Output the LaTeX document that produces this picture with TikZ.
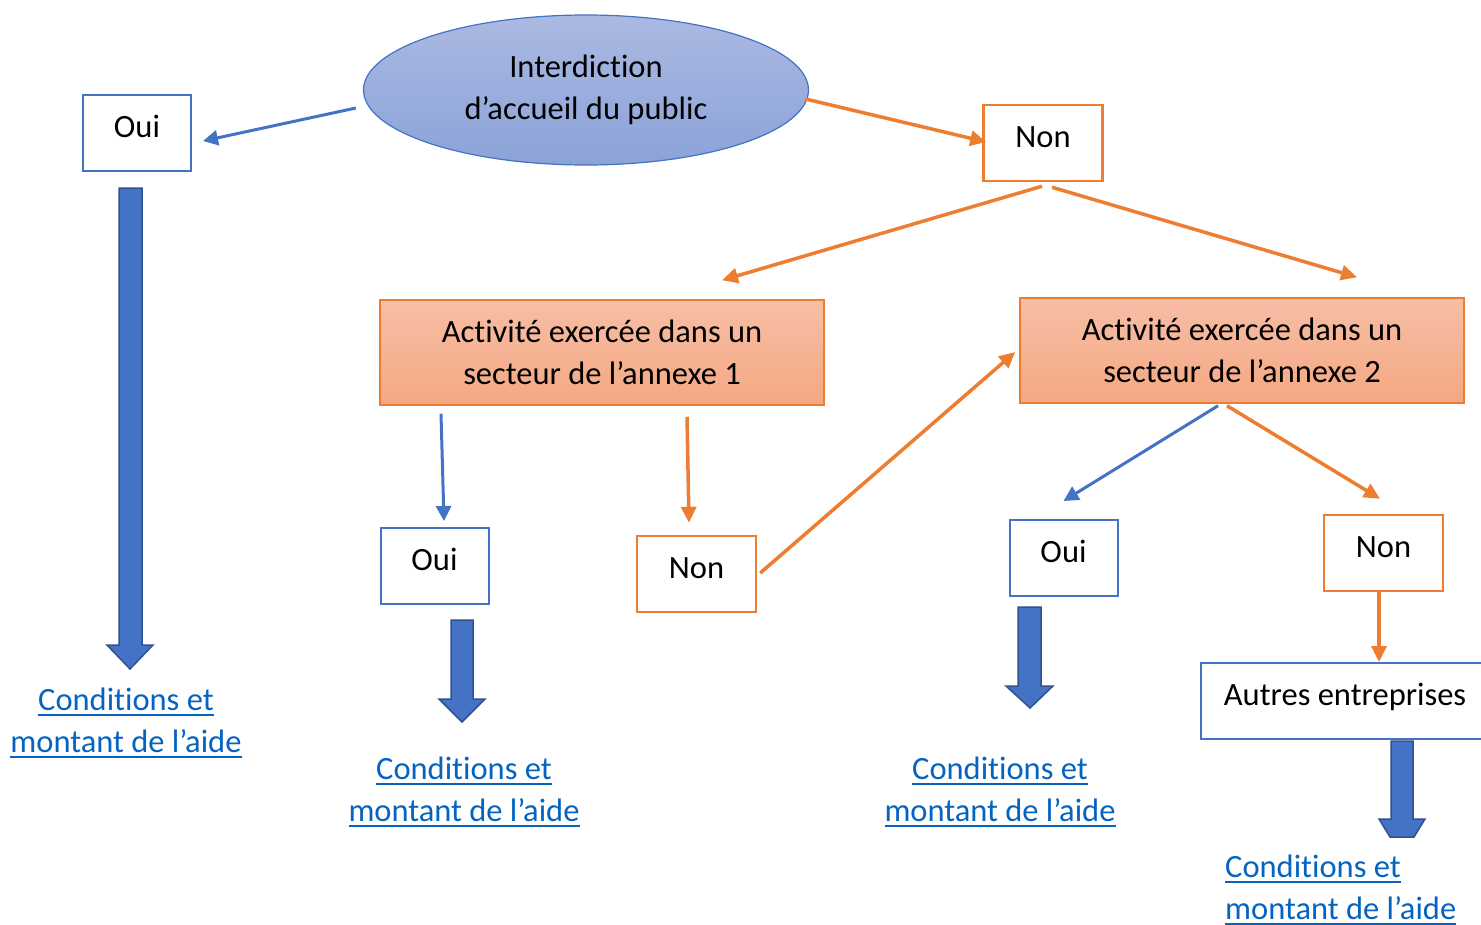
\documentclass[tikz,border=0pt]{standalone}
\usepackage{fontspec}
\setmainfont{Carlito}[Ligatures=NoCommon]
\usetikzlibrary{shapes.geometric}
\usetikzlibrary{arrows.meta}

\definecolor{bleu}{HTML}{4472C4}
\definecolor{bleufonce}{HTML}{2F528F}
\definecolor{orangetrait}{HTML}{ED7D31}
\definecolor{ellhaut}{HTML}{ABB9E2}
\definecolor{ellbas}{HTML}{8BA3D8}
\definecolor{annhaut}{HTML}{F7BEA6}
\definecolor{annbas}{HTML}{F4A882}
\definecolor{lien}{HTML}{0563C1}

\newcommand{\souligne}[1]{%
  \setbox0\hbox{#1}%
  \rlap{\raisebox{-5.5pt}{\rule{\wd0}{2.3pt}}}\box0}

\tikzset{
  boite/.style={
    rectangle,
    fill=white,
    line width=2pt,
    minimum height=76pt,
    text height=23pt,
    text depth=14pt,
  },
  boiteoui/.style={boite, draw=bleu, minimum width=108pt},
  boitenon/.style={boite, draw=orangetrait, line width=2.5pt, minimum width=119pt},
  annexe/.style={
    rectangle,
    draw=orangetrait,
    line width=1.5pt,
    top color=annhaut,
    bottom color=annbas,
    minimum width=444pt,
    minimum height=105pt,
    align=center,
  },
  lientexte/.style={text=lien, inner sep=0pt, align=center},
  flecheoui/.style={draw=bleu, line width=3pt, -{Triangle[length=15pt,width=15pt]}},
  flechenon/.style={draw=orangetrait, line width=3.5pt, -{Triangle[length=16pt,width=15pt]}},
  grosse/.style={fill=bleu, draw=bleufonce, line width=1.5pt, line join=miter},
}

\begin{document}
\begin{tikzpicture}[
  x=1pt, y=-1pt,
  every node/.style={font=\fontsize{32.5}{42}\selectfont},
]
  \useasboundingbox (0,0) rectangle (1481,924);
  \clip (0,0) rectangle (1481,924);

  % question de depart
  \node[
    ellipse,
    draw=bleu,
    line width=1.2pt,
    top color=ellhaut,
    bottom color=ellbas,
    minimum width=445pt,
    minimum height=150pt,
    inner sep=0pt,
    align=center,
  ] (accueil) at (586,90) {Interdiction\\d’accueil du public};

  \node[boiteoui] (oui1) at (137,132.5) {Oui};
  \node[boitenon] (non1) at (1043,143) {Non};

  \node[annexe] (annexe1) at (602,352.5) {Activité exercée dans un\\secteur de l’annexe 1};
  \node[annexe] (annexe2) at (1242,350.5) {Activité exercée dans un\\secteur de l’annexe 2};

  \node[boiteoui] (oui2) at (434.5,566) {Oui};
  \node[boitenon] (non2) at (696.5,574) {Non};
  \node[boiteoui] (oui3) at (1063.5,558) {Oui};
  \node[boitenon] (non3) at (1383.5,553) {Non};

  \node[
    boite,
    draw=bleu,
    minimum width=288pt,
  ] (autres) at (1345,701) {Autres entreprises};

  % liens
  \node[lientexte] (lien1) at (126,723) {\souligne{Conditions et}\\\souligne{montant de l’aide}};
  \node[lientexte] (lien2) at (464,792) {\souligne{Conditions et}\\\souligne{montant de l’aide}};
  \node[lientexte] (lien3) at (1000,792) {\souligne{Conditions et}\\\souligne{montant de l’aide}};
  \node[lientexte, align=left, anchor=west] (lien4) at (1225,890) {\souligne{Conditions et}\\\souligne{montant de l’aide}};

  % fleches fines
  \draw[flecheoui] ([shift={(-7,18)}]accueil.west) -- ([shift={(11,8.5)}]oui1.east);
  \draw[flechenon] ([shift={(-3.5,9)}]accueil.east) -- ([shift={(4,-1)}]non1.west);
  \draw[flechenon] ([shift={(-1,4)}]non1.south) -- ([shift={(120,-19)}]annexe1.north);
  \draw[flechenon] ([shift={(9,5)}]non1.south) -- ([shift={(115,-20)}]annexe2.north);
  \draw[flecheoui] ([shift={(-161,8)}]annexe1.south) -- ([shift={(9.5,-6)}]oui2.north);
  \draw[flechenon] ([shift={(85,11)}]annexe1.south) -- ([shift={(-7.5,-12)}]non2.north);
  \draw[flechenon] ([shift={(3,-1)}]non2.east) -- ([shift={(-4,1.5)}]annexe2.west);
  \draw[flecheoui] ([shift={(-24,2)}]annexe2.south) -- ([shift={(0,-18)}]oui3.north);
  \draw[flechenon] ([shift={(-15,2)}]annexe2.south) -- ([shift={(-3.5,-15)}]non3.north);
  \draw[flechenon] ([shift={(-4.5,0)}]non3.south) -- ([shift={(34,0)}]autres.north);

  % grosses fleches
  \filldraw[grosse] (119,188) -- (142,188) -- (142,645) -- (153,645) -- (130,669) -- (107,645) -- (119,645) -- cycle;
  \filldraw[grosse] (451,620) -- (473,620) -- (473,699) -- (485,699) -- (462,722) -- (439,699) -- (451,699) -- cycle;
  \filldraw[grosse] (1018,607) -- (1041,607) -- (1041,686) -- (1053,686) -- (1030,708) -- (1006,686) -- (1018,686) -- cycle;
  \filldraw[grosse] (1391,741) -- (1413,741) -- (1413,819) -- (1425,819) -- (1414,837) -- (1390,837) -- (1379,819) -- (1391,819) -- cycle;
\end{tikzpicture}
\end{document}
